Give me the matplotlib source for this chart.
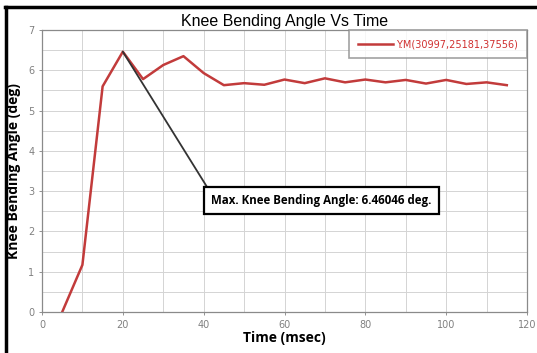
import matplotlib
matplotlib.use("Agg")
import matplotlib.pyplot as plt
from matplotlib.lines import Line2D
from matplotlib.ticker import MultipleLocator

# knee bending angle history
time_ms = [5, 10, 15, 20, 25, 30, 35, 40, 45, 50, 55, 60,
           65, 70, 75, 80, 85, 90, 95, 100, 105, 110, 115]
angle_deg = [0.0, 1.17, 5.6, 6.46046, 5.78, 6.13, 6.35, 5.93, 5.63, 5.68, 5.64, 5.77,
             5.68, 5.80, 5.70, 5.77, 5.70, 5.76, 5.67, 5.76, 5.66, 5.70, 5.63]
series_name = "Y.M(30997,25181,37556)"
peak_time = 20
peak_angle = 6.46046

fig = plt.figure(figsize=(5.37, 3.53), dpi=100)
ax = fig.add_axes([0.0782, 0.1161, 0.9032, 0.799])

ax.plot(time_ms, angle_deg, color="#c23b3b", lw=1.8, label=series_name,
        solid_joinstyle="round")

ax.set_xlim(0, 120)
ax.set_ylim(0, 7)
ax.xaxis.set_major_locator(MultipleLocator(20))
ax.xaxis.set_minor_locator(MultipleLocator(10))
ax.yaxis.set_major_locator(MultipleLocator(1))
ax.yaxis.set_minor_locator(MultipleLocator(0.5))
ax.grid(which="both", color="#d4d4d4", lw=0.7)
ax.set_axisbelow(True)
ax.tick_params(which="major", labelsize=7, labelcolor="#808080", color="#808080",
               length=2, width=0.6)
ax.tick_params(which="minor", length=0)
for sp in ax.spines.values():
    sp.set_color("#8a8a8a")
    sp.set_linewidth(0.9)

ax.set_title("Knee Bending Angle Vs Time", fontsize=11.5, family="Liberation Sans", pad=3)
ax.set_xlabel("Time (msec)", fontsize=10, fontweight="bold", family="Open Sans", labelpad=1)
ax.set_ylabel("Knee Bending Angle (deg)", fontsize=10, fontweight="bold", family="Open Sans",
              labelpad=5)

leg = ax.legend(loc="upper right", borderaxespad=0.05, fancybox=False, frameon=True,
                fontsize=7, handlelength=3.6, handletextpad=0.3, borderpad=0.9,
                labelcolor="#d03030")
leg.get_frame().set_edgecolor("#8a8a8a")
leg.get_frame().set_linewidth(1.2)

# peak value callout
ax.annotate(f"Max. Knee Bending Angle: {peak_angle:.5f} deg.",
            xy=(peak_time, peak_angle), xytext=(41.9, 2.77),
            ha="left", va="center", fontsize=8.3, fontweight="bold", family="Open Sans",
            bbox=dict(boxstyle="square,pad=0.6", fc="white", ec="black", lw=1.6),
            arrowprops=dict(arrowstyle="-", color="#333333", lw=1.3, relpos=(0, 1),
                            shrinkA=0, shrinkB=0))

# outer frame edges
fig.add_artist(Line2D([0.0095, 1.0], [0.98, 0.98], color="black", lw=2.5,
                      transform=fig.transFigure))
fig.add_artist(Line2D([0.0112, 0.0112], [0.0, 0.98], color="black", lw=2.5,
                      transform=fig.transFigure))

fig.savefig("out.png", dpi=100)
